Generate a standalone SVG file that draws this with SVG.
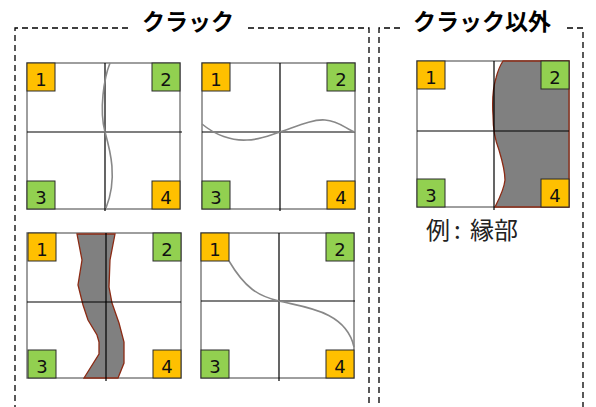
<svg xmlns="http://www.w3.org/2000/svg" width="596" height="407" viewBox="0 0 596 407">
<style>
.dash{fill:none;stroke:#000;stroke-width:1.3;stroke-dasharray:6,4}
.title{font-family:"Noto Sans CJK JP","Noto Sans",sans-serif;font-weight:bold;font-size:23px;fill:#000}
.frame{fill:#fff;stroke:#7f7f7f;stroke-width:1.5}
.inner{stroke:#000;stroke-width:1.2;fill:none}
.crack{fill:none;stroke:#888;stroke-width:1.6}
.area{fill:#808080;stroke:#8b2a14;stroke-width:1.3}
.o{fill:#ffc000;stroke:#2a2a2a;stroke-width:1}
.g{fill:#92d050;stroke:#2a2a2a;stroke-width:1}
.n{font-family:"DejaVu Sans",sans-serif;font-size:18px;fill:#111;text-anchor:middle}
.ex{font-family:"Noto Sans CJK JP","Noto Sans",sans-serif;font-size:24px;fill:#222}
</style>
<g id="crack-box">
<path class="dash" d="M128,28 H15 V407"/>
<path class="dash" d="M248,28 H369 V407"/>
<text class="title" x="142" y="30">クラック</text>
</g>
<g id="noncrack-box">
<path class="dash" d="M400,28 H379 V407"/>
<path class="dash" d="M567,28 H583 V407"/>
<text class="title" x="413" y="30">クラック以外</text>
</g>
<g id="panel1">
<rect class="frame" x="27" y="63" width="153" height="146"/>
<path class="inner" d="M105,63 V211 M27,132 H182"/>
<path class="crack" d="M110,63 C104,78 99,110 105,132 C110,150 118,178 106,208"/>
<rect class="o" x="27" y="63" width="28" height="28"/><text class="n" x="41" y="86">1</text>
<rect class="g" x="152" y="63" width="28" height="28"/><text class="n" x="166" y="86">2</text>
<rect class="g" x="27" y="181" width="28" height="28"/><text class="n" x="41" y="204">3</text>
<rect class="o" x="152" y="181" width="28" height="28"/><text class="n" x="166" y="204">4</text>
</g>
<g id="panel2">
<rect class="frame" x="202" y="63" width="153" height="146"/>
<path class="inner" d="M280,63 V211 M202,132 H355"/>
<path class="crack" d="M202,124 C215,135 232,141 247,140 C260,140 270,135 280,132 C295,127 312,119 325,120 C340,121 347,130 355,132"/>
<rect class="o" x="202" y="63" width="28" height="28"/><text class="n" x="216" y="86">1</text>
<rect class="g" x="327" y="63" width="28" height="28"/><text class="n" x="341" y="86">2</text>
<rect class="g" x="202" y="181" width="28" height="28"/><text class="n" x="216" y="204">3</text>
<rect class="o" x="327" y="181" width="28" height="28"/><text class="n" x="341" y="204">4</text>
</g>
<g id="panel3">
<rect class="frame" x="27" y="233" width="154" height="145"/>
<polygon class="area" points="77,234 115,234 110,260 109,287 112,303 119,323 124,342 124,363 118,378 84,378 99,354 99,342 97,335 88,320 83,305 78,285 82,260"/>
<path class="inner" d="M106,233 V381 M27,302 H181"/>
<rect class="o" x="28" y="233" width="28" height="28"/><text class="n" x="42" y="256">1</text>
<rect class="g" x="153" y="233" width="28" height="28"/><text class="n" x="167" y="256">2</text>
<rect class="g" x="28" y="350" width="28" height="28"/><text class="n" x="42" y="373">3</text>
<rect class="o" x="153" y="350" width="28" height="28"/><text class="n" x="167" y="373">4</text>
</g>
<g id="panel4">
<rect class="frame" x="201" y="233" width="153" height="145"/>
<path class="inner" d="M279,233 V381 M201,301 H355"/>
<path class="crack" d="M229,261 C245,288 258,296 279,301 C302,307 346,310 354,347"/>
<rect class="o" x="201" y="233" width="28" height="28"/><text class="n" x="215" y="256">1</text>
<rect class="g" x="326" y="233" width="28" height="28"/><text class="n" x="340" y="256">2</text>
<rect class="g" x="201" y="350" width="28" height="28"/><text class="n" x="215" y="373">3</text>
<rect class="o" x="326" y="350" width="28" height="28"/><text class="n" x="340" y="373">4</text>
</g>
<g id="panel5">
<rect class="frame" x="417" y="61" width="152" height="146"/>
<path class="area" d="M503,61 H569 V207 H495 C497,203 504,190 505,180 C505,172 502,160 499,150 C495,140 493,128 493,115 C492,100 493,88 496,78 C498,70 501,64 503,61 Z"/>
<path class="inner" d="M494,61 V210 M417,131 H569"/>
<rect class="o" x="417" y="61" width="28" height="28"/><text class="n" x="431" y="84">1</text>
<rect class="g" x="541" y="61" width="28" height="28"/><text class="n" x="555" y="84">2</text>
<rect class="g" x="417" y="179" width="28" height="28"/><text class="n" x="431" y="202">3</text>
<rect class="o" x="541" y="179" width="28" height="28"/><text class="n" x="555" y="202">4</text>
<text class="ex" x="426" y="239">例<tspan dx="4">:</tspan><tspan dx="4"> 縁部</tspan></text>
</g>
</svg>
